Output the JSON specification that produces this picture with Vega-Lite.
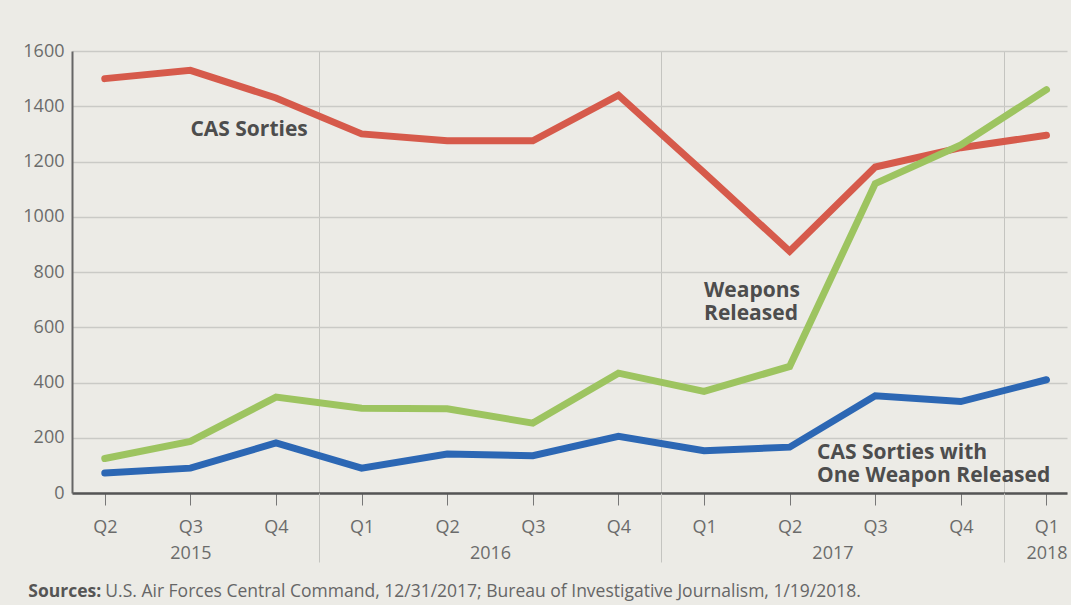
{
  "$schema": "https://vega.github.io/schema/vega-lite/v6.json",
  "width": 995,
  "height": 442,
  "autosize": "none",
  "padding": {"left": 72, "top": 51, "right": 4, "bottom": 112},
  "background": "#ecebe6",
  "config": {
    "view": {"stroke": null},
    "font": "Open Sans",
    "axis": {"labelFont": "Open Sans", "labelColor": "#6b6b6b"},
    "text": {"font": "Open Sans"}
  },
  "datasets": {
    "quarters": [
      {"period": "2015 Q2", "qnum": 0, "series": "CAS Sorties", "value": 1500},
      {"period": "2015 Q3", "qnum": 1, "series": "CAS Sorties", "value": 1530},
      {"period": "2015 Q4", "qnum": 2, "series": "CAS Sorties", "value": 1430},
      {"period": "2016 Q1", "qnum": 3, "series": "CAS Sorties", "value": 1300},
      {"period": "2016 Q2", "qnum": 4, "series": "CAS Sorties", "value": 1275},
      {"period": "2016 Q3", "qnum": 5, "series": "CAS Sorties", "value": 1275},
      {"period": "2016 Q4", "qnum": 6, "series": "CAS Sorties", "value": 1440},
      {"period": "2017 Q1", "qnum": 7, "series": "CAS Sorties", "value": 1160},
      {"period": "2017 Q2", "qnum": 8, "series": "CAS Sorties", "value": 875},
      {"period": "2017 Q3", "qnum": 9, "series": "CAS Sorties", "value": 1180},
      {"period": "2017 Q4", "qnum": 10, "series": "CAS Sorties", "value": 1250},
      {"period": "2018 Q1", "qnum": 11, "series": "CAS Sorties", "value": 1295},
      {"period": "2015 Q2", "qnum": 0, "series": "Weapons Released", "value": 125},
      {"period": "2015 Q3", "qnum": 1, "series": "Weapons Released", "value": 187},
      {"period": "2015 Q4", "qnum": 2, "series": "Weapons Released", "value": 347},
      {"period": "2016 Q1", "qnum": 3, "series": "Weapons Released", "value": 307},
      {"period": "2016 Q2", "qnum": 4, "series": "Weapons Released", "value": 305},
      {"period": "2016 Q3", "qnum": 5, "series": "Weapons Released", "value": 253},
      {"period": "2016 Q4", "qnum": 6, "series": "Weapons Released", "value": 434},
      {"period": "2017 Q1", "qnum": 7, "series": "Weapons Released", "value": 368},
      {"period": "2017 Q2", "qnum": 8, "series": "Weapons Released", "value": 458},
      {"period": "2017 Q3", "qnum": 9, "series": "Weapons Released", "value": 1120},
      {"period": "2017 Q4", "qnum": 10, "series": "Weapons Released", "value": 1260},
      {"period": "2018 Q1", "qnum": 11, "series": "Weapons Released", "value": 1460},
      {"period": "2015 Q2", "qnum": 0, "series": "CAS Sorties with One Weapon Released", "value": 72},
      {"period": "2015 Q3", "qnum": 1, "series": "CAS Sorties with One Weapon Released", "value": 90},
      {"period": "2015 Q4", "qnum": 2, "series": "CAS Sorties with One Weapon Released", "value": 181},
      {"period": "2016 Q1", "qnum": 3, "series": "CAS Sorties with One Weapon Released", "value": 90},
      {"period": "2016 Q2", "qnum": 4, "series": "CAS Sorties with One Weapon Released", "value": 141},
      {"period": "2016 Q3", "qnum": 5, "series": "CAS Sorties with One Weapon Released", "value": 135},
      {"period": "2016 Q4", "qnum": 6, "series": "CAS Sorties with One Weapon Released", "value": 205},
      {"period": "2017 Q1", "qnum": 7, "series": "CAS Sorties with One Weapon Released", "value": 153},
      {"period": "2017 Q2", "qnum": 8, "series": "CAS Sorties with One Weapon Released", "value": 166},
      {"period": "2017 Q3", "qnum": 9, "series": "CAS Sorties with One Weapon Released", "value": 352},
      {"period": "2017 Q4", "qnum": 10, "series": "CAS Sorties with One Weapon Released", "value": 331},
      {"period": "2018 Q1", "qnum": 11, "series": "CAS Sorties with One Weapon Released", "value": 410}
    ],
    "one": [{"note": "annotation"}]
  },
  "resolve": {"axis": {"x": "independent"}},
  "layer": [
    {
      "data": {"name": "quarters"},
      "mark": {"type": "line", "strokeWidth": 7, "strokeCap": "round", "strokeJoin": "miter"},
      "encoding": {
        "x": {
          "field": "qnum", "type": "quantitative",
          "scale": {"domain": [-0.383, 11.24], "nice": false, "zero": false},
          "axis": {
            "orient": "bottom", "title": null, "values": [0,1,2,3,4,5,6,7,8,9,10,11],
            "labelExpr": "['Q2','Q3','Q4','Q1'][datum.value % 4]",
            "grid": false, "domainColor": "#555555", "domainWidth": 2.5,
            "tickColor": "#777777", "tickWidth": 1, "tickSize": 12,
            "labelFontSize": 18, "labelPadding": 13, "labelFlush": false
          }
        },
        "y": {
          "field": "value", "type": "quantitative",
          "scale": {"domain": [0, 1600], "nice": false},
          "axis": {
            "title": null, "values": [0,200,400,600,800,1000,1200,1400,1600], "format": "d",
            "grid": true, "gridColor": "#cacac6", "gridWidth": 1.5,
            "domainColor": "#666666", "domainWidth": 2,
            "ticks": false, "labelPadding": 8, "labelFontSize": 18
          }
        },
        "color": {
          "field": "series", "type": "nominal", "legend": null,
          "scale": {
            "domain": ["CAS Sorties", "Weapons Released", "CAS Sorties with One Weapon Released"],
            "range": ["#d65a4b", "#9dc460", "#2c67b4"]
          }
        },
        "detail": {"field": "series"}
      }
    },
    {
      "data": {"name": "one"},
      "mark": {"type": "text", "text": "CAS Sorties", "align": "left", "baseline": "middle", "fontSize": 21, "fontWeight": "bold", "color": "#4d4d4d"},
      "encoding": {
        "x": {
          "datum": 1.0, "type": "quantitative",
          "scale": {"domain": [-0.383, 11.24], "nice": false, "zero": false},
          "axis": {
            "orient": "bottom", "title": null, "values": [1, 4.5, 8.5, 11],
            "labelExpr": "datum.value < 2 ? '2015' : datum.value < 6 ? '2016' : datum.value < 10 ? '2017' : '2018'",
            "grid": false, "domain": false, "ticks": false, "tickSize": 0,
            "labelFontSize": 18, "labelPadding": 51, "labelFlush": false
          }
        },
        "y": {"datum": 1315, "type": "quantitative", "scale": {"domain": [0, 1600], "nice": false}}
      }
    },
    {
      "data": {"name": "one"},
      "mark": {"type": "text", "text": ["Weapons", "Released"], "align": "left", "baseline": "middle", "lineHeight": 23, "fontSize": 21, "fontWeight": "bold", "color": "#4d4d4d"},
      "encoding": {
        "x": {
          "datum": 7.0, "type": "quantitative",
          "scale": {"domain": [-0.383, 11.24], "nice": false, "zero": false},
          "axis": {
            "orient": "bottom", "title": null, "values": [2.5, 6.5, 10.5],
            "labels": false, "domain": false,
            "grid": true, "gridColor": "#c4c4c0", "gridWidth": 1,
            "ticks": true, "tickSize": 69, "tickColor": "#c4c4c0", "tickWidth": 1
          }
        },
        "y": {"datum": 732, "type": "quantitative", "scale": {"domain": [0, 1600], "nice": false}}
      }
    },
    {
      "data": {"name": "one"},
      "mark": {"type": "text", "text": ["CAS Sorties with", "One Weapon Released"], "align": "left", "baseline": "middle", "lineHeight": 23, "fontSize": 21, "fontWeight": "bold", "color": "#4d4d4d"},
      "encoding": {
        "x": {"datum": 8.32, "type": "quantitative", "scale": {"domain": [-0.383, 11.24], "nice": false, "zero": false}, "axis": null},
        "y": {"datum": 146, "type": "quantitative", "scale": {"domain": [0, 1600], "nice": false}}
      }
    },
    {
      "data": {"name": "one"},
      "mark": {"type": "text", "text": "Sources:", "align": "left", "baseline": "middle", "fontSize": 17.5, "fontWeight": "bold", "color": "#555555"},
      "encoding": {
        "x": {"datum": -0.893, "type": "quantitative", "scale": {"domain": [-0.383, 11.24], "nice": false, "zero": false}, "axis": null},
        "y": {"datum": -357, "type": "quantitative", "scale": {"domain": [0, 1600], "nice": false}}
      }
    },
    {
      "data": {"name": "one"},
      "mark": {"type": "text", "text": "U.S. Air Forces Central Command, 12/31/2017; Bureau of Investigative Journalism, 1/19/2018.", "align": "left", "baseline": "middle", "fontSize": 17.5, "color": "#666666"},
      "encoding": {
        "x": {"datum": 0.006, "type": "quantitative", "scale": {"domain": [-0.383, 11.24], "nice": false, "zero": false}, "axis": null},
        "y": {"datum": -357, "type": "quantitative", "scale": {"domain": [0, 1600], "nice": false}}
      }
    }
  ]
}
